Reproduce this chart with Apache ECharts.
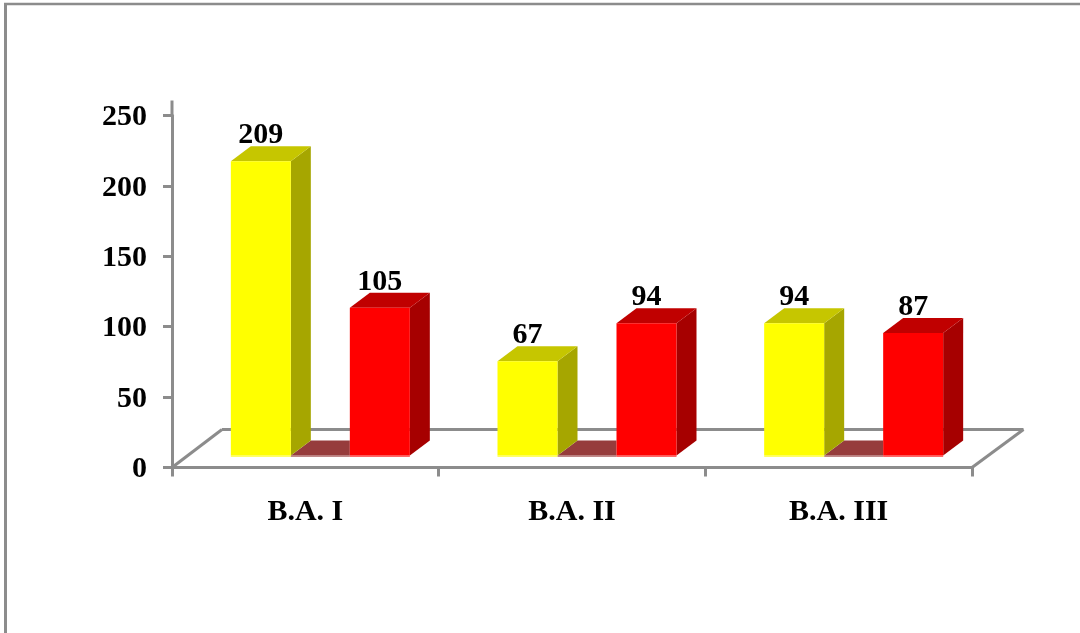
<!DOCTYPE html>
<html>
<head>
<meta charset="utf-8">
<style>html,body{margin:0;padding:0;background:#fff}#c{width:1080px;height:633px}</style>
<script src="https://cdn.jsdelivr.net/npm/echarts@6/dist/echarts.min.js"></script>
</head>
<body>
<div id="c"></div>
<script>
const categories = ['B.A. I', 'B.A. II', 'B.A. III'];
const firstValues = [209, 67, 94];
const secondValues = [105, 94, 87];

const GRAY = '#8c8c8c';
const FONT = '"Liberation Serif", "Times New Roman", serif';
const DEPTH_X = 20, DEPTH_Y = 15, LIFT = 12, BAR_W = 60;
const FLOOR_X = 50, FLOOR_X_RIGHT = 51.5, FLOOR_Y = 38;
const OFFSET_FIRST = -74.5, OFFSET_SECOND = 44.5;

function barItem(offset, front, top, side) {
  return function (params, api) {
    const i = api.value(0), v = api.value(1);
    const base = api.coord([i, 0]);
    const head = api.coord([i, v]);
    const x = base[0] + offset, x2 = x + BAR_W;
    const yb = base[1] - LIFT, yt = head[1] - LIFT;
    const dx = DEPTH_X, dy = DEPTH_Y;
    return {
      type: 'group',
      children: [
        { type: 'polygon', shape: { points: [[x2, yt], [x2 + dx, yt - dy], [x2 + dx, yb - dy], [x2, yb]] }, style: { fill: side } },
        { type: 'polygon', shape: { points: [[x, yt], [x + dx, yt - dy], [x2 + dx, yt - dy], [x2, yt]] }, style: { fill: top } },
        { type: 'rect', shape: { x: x, y: yt, width: BAR_W, height: yb - yt }, style: { fill: front } },
        { type: 'rect', shape: { x: x, y: yb, width: BAR_W, height: 1.5 }, style: { fill: front, opacity: 0.6 } },
        { type: 'text', style: { x: x + BAR_W / 2, y: yt - 10.5, text: String(v), fill: '#000', font: 'bold 30px ' + FONT, align: 'center', verticalAlign: 'bottom' } }
      ]
    };
  };
}

function floorItem(params, api) {
  const o = api.coord([0, 0]);
  const band = api.size([1, 0])[0];
  const left = o[0] - band / 2, right = left + band * categories.length;
  const y = o[1];
  const line = (x1, y1, x2, y2) => ({ type: 'line', shape: { x1, y1, x2, y2 }, style: { stroke: GRAY, lineWidth: 3 } });
  const topY = api.coord([0, 250])[1];
  return {
    type: 'group',
    children: [
      line(left, y, left + FLOOR_X, y - FLOOR_Y),
      line(left + FLOOR_X, y - FLOOR_Y, right + FLOOR_X_RIGHT, y - FLOOR_Y),
      line(right, y, right + FLOOR_X_RIGHT, y - FLOOR_Y),
      line(left, topY, left, topY - 15)
    ]
  };
}

function shadowItem(params, api) {
  const base = api.coord([api.value(0), 0]);
  const x1 = base[0] + OFFSET_FIRST + BAR_W, x2 = base[0] + OFFSET_SECOND;
  const y = base[1] - LIFT;
  return {
    type: 'group',
    children: [
      { type: 'polygon', shape: { points: [[x1, y], [x1 + DEPTH_X, y - DEPTH_Y], [x2, y - DEPTH_Y], [x2, y]] }, style: { fill: '#963c3c' } },
      { type: 'rect', shape: { x: x1, y: y, width: x2 - x1, height: 1.5 }, style: { fill: '#963c3c', opacity: 0.6 } }
    ]
  };
}

const chart = echarts.init(document.getElementById('c'), null, { renderer: 'canvas' });
chart.setOption({
  animation: false,
  backgroundColor: '#fff',
  grid: { left: 172, right: 108, top: 115.5, bottom: 165.5, containLabel: false },
  xAxis: {
    type: 'category',
    data: categories,
    axisLine: { lineStyle: { color: GRAY, width: 3 } },
    axisTick: { show: true, length: 9, lineStyle: { color: GRAY, width: 3 } },
    axisLabel: { color: '#000', fontFamily: FONT, fontWeight: 'bold', fontSize: 30, margin: 30 }
  },
  yAxis: {
    type: 'value',
    min: 0,
    max: 250,
    interval: 50,
    axisLine: { show: true, lineStyle: { color: GRAY, width: 3 } },
    axisTick: { show: true, length: 9, lineStyle: { color: GRAY, width: 3 } },
    splitLine: { show: false },
    axisLabel: {
      margin: 25,
      formatter: '{t|{value}}',
      rich: { t: { color: '#000', fontFamily: FONT, fontWeight: 'bold', fontSize: 30, padding: [4, 0, 0, 0] } }
    }
  },
  graphic: [
    { type: 'line', shape: { x1: 5.5, y1: 3, x2: 5.5, y2: 633 }, style: { stroke: GRAY, lineWidth: 3 } },
    { type: 'line', shape: { x1: 4, y1: 4, x2: 1080, y2: 4 }, style: { stroke: GRAY, lineWidth: 2.5 } }
  ],
  series: [
    { type: 'custom', silent: true, clip: false, z: 1, data: [[0, 0]], renderItem: floorItem },
    { type: 'custom', silent: true, clip: false, z: 2, data: categories.map((c, i) => [i, 0]), renderItem: shadowItem },
    { type: 'custom', name: 'first', clip: false, z: 3, data: firstValues.map((v, i) => [i, v]), encode: { x: 0, y: 1 },
      renderItem: barItem(OFFSET_FIRST, '#ffff00', '#c6c600', '#a6a600') },
    { type: 'custom', name: 'second', clip: false, z: 4, data: secondValues.map((v, i) => [i, v]), encode: { x: 0, y: 1 },
      renderItem: barItem(OFFSET_SECOND, '#ff0000', '#c00000', '#a60000') }
  ]
});
</script>
</body>
</html>
